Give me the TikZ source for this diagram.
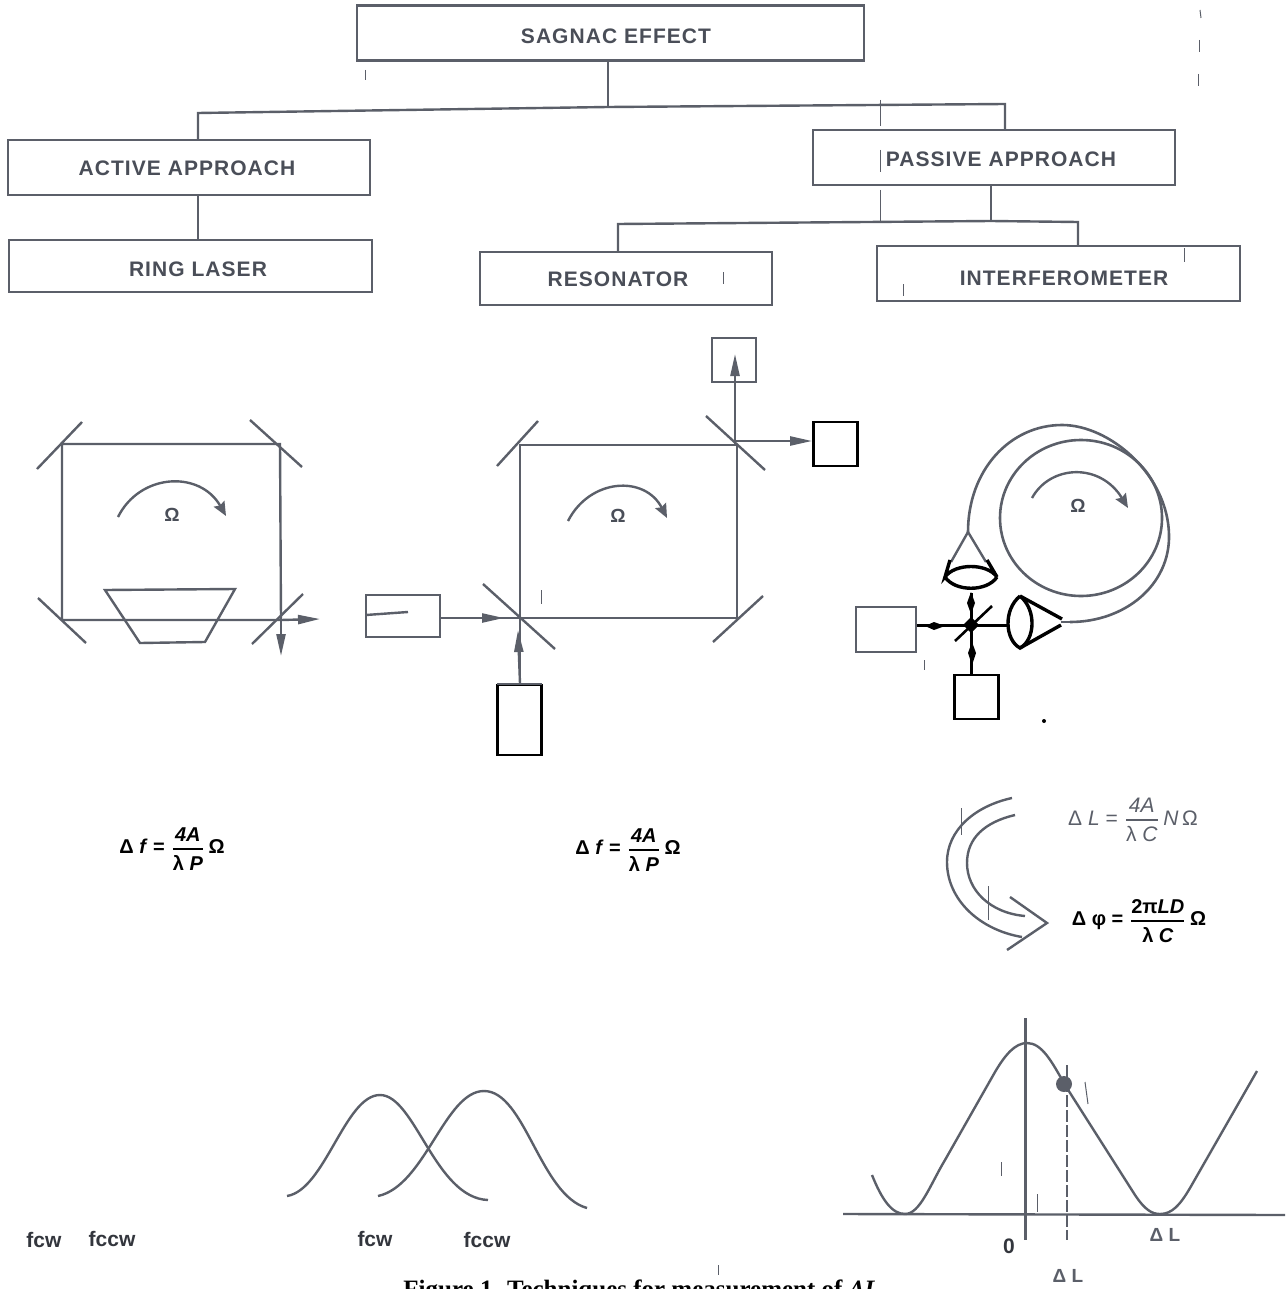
\documentclass[tikz,border=0pt]{standalone}
\usepackage{fontspec}
\setmainfont{Liberation Sans}
\newfontfamily\capfont{Liberation Serif}
\usetikzlibrary{arrows.meta}
\definecolor{inkg}{HTML}{5B5F69}
\definecolor{inkd}{HTML}{33363D}
\definecolor{inkt}{HTML}{4A4E58}
\newcommand{\fr}[2]{${\displaystyle\hbox{\rule[-2.5pt]{0pt}{2pt}#1}\above0.8pt\hbox{\rule{0pt}{9.5pt}#2}}$}
\tikzset{
  boxlbl/.style={draw=inkg,line width=1.2pt,fill=white,inner sep=0pt},
  boxtxt/.style={inner sep=0pt,text=inkt,font=\fontsize{10.5}{12}\selectfont\bfseries\addfontfeature{LetterSpace=5}},
  ln/.style={draw=inkg,line width=1.2pt},
  heavy/.style={draw=black,line width=1.3pt},
  heavier/.style={draw=black,line width=1.7pt},
  plain box/.style={draw=inkg,line width=1.2pt,fill=white,inner sep=0pt},
  black box/.style={draw=black,line width=1.4pt,fill=white,inner sep=0pt},
  tipg/.style={-{Stealth[length=11pt,width=4.5pt,inset=0pt]},ln},
  omega/.style={text=inkt,font=\fontsize{9.5}{11}\selectfont\bfseries},
  curl/.style={ln,-{Stealth[length=7pt,width=6pt,inset=1pt]}},
  formula/.style={text=black,font=\fontsize{10}{12}\selectfont\bfseries},
  formulag/.style={text=inkg,font=\fontsize{10.5}{12}\selectfont},
  tag/.style={text=inkd,font=\fontsize{10.5}{12}\selectfont\bfseries},
  tagg/.style={text=inkg,font=\fontsize{9.5}{11}\selectfont\bfseries},
  speck/.style={draw=inkg,line width=0.5pt},
}
\begin{document}
\begin{tikzpicture}[x=0.5pt,y=-0.5pt]
\useasboundingbox (0,0) rectangle (1287,1289);
\clip (0,0) rectangle (1287,1289);
% hierarchy
\node[boxlbl,minimum width=253.5pt,minimum height=27.5pt] (sagnac) at (610.5,33) {};
\node[boxtxt] (sagnact) at (616,36) {SAGNAC EFFECT};
\node[boxlbl,minimum width=181pt,minimum height=27.5pt] (active) at (189,167.5) {};
\node[boxtxt] (activet) at (187,168) {ACTIVE APPROACH};
\node[boxlbl,minimum width=181pt,minimum height=27.5pt] (passive) at (994,157.5) {};
\node[boxtxt] (passivet) at (1001,159) {PASSIVE APPROACH};
\node[boxlbl,minimum width=181.5pt,minimum height=26pt] (ring) at (190.5,266) {};
\node[boxtxt] (ringt) at (198,269) {RING LASER};
\node[boxlbl,minimum width=146pt,minimum height=26.5pt] (reson) at (626,278.5) {};
\node[boxtxt] (resont) at (618,279) {RESONATOR};
\node[boxlbl,minimum width=181.5pt,minimum height=27.5pt] (interf) at (1058.5,273.5) {};
\node[boxtxt] (interft) at (1064,278) {INTERFEROMETER};
\coordinate (b1) at (608,107);
\coordinate (b1l) at (198,113);
\coordinate (b1r) at (1005,104);
\coordinate (b2) at (991,221);
\coordinate (b2l) at (618,224);
\coordinate (b2r) at (1078,222);
\draw[ln] (sagnac.south -| b1) -- (b1);
\draw[ln] (active.north -| b1l) -- (b1l) -- (b1) -- (b1r) -- (passive.north -| b1r);
\draw[ln] (active.south -| b1l) -- (ring.north -| b1l);
\draw[ln] (passive.south -| b2) -- (b2);
\draw[ln] (reson.north -| b2l) -- (b2l) -- (b2) -- (b2r) -- (interf.north -| b2r);
% ring laser
\draw[ln] (62,444) -- (280,444) -- (281,620) -- (62,620) -- cycle;
\draw[ln] (37,469) -- (82,422);
\draw[ln] (250,420) -- (302,467);
\draw[ln] (38,598) -- (86,643);
\draw[ln] (252,644) -- (303,594);
\draw[ln] (105,590) -- (235,589) -- (205,642) -- (140,643) -- cycle;
\coordinate (rlc) at (281,620);
\draw[tipg] (rlc) -- (320,619);
\draw[tipg] (rlc) -- (281,656);
\draw[curl] (118,517) .. controls (140,473) and (200,470) .. (226,516);
\node[omega] (om1) at (172,515) {Ω};
% resonator
\draw[ln] (520,445) -- (737,445) -- (737,618) -- (520,618) -- cycle;
\draw[ln] (497,466) -- (538,421);
\draw[ln] (706,416) -- (765,470);
\draw[ln] (483,584) -- (555,649);
\draw[ln] (713,642) -- (763,596);
\node[plain box,minimum width=37pt,minimum height=21pt] (src) at (403,616) {};
\draw[ln] (366,615) -- (408,612);
\coordinate (bs) at (520,618);
\draw[tipg] (src.east |- bs) -- (504,618);
\draw[ln] (src.east |- bs) -- (bs);
\node[black box,minimum width=22pt,minimum height=35pt] (laser) at (519.5,720) {};
\draw[ln] (497,684) -- (542,684);
\draw[tipg] (laser.north -| bs) -- (518,630);
\draw[ln] (laser.north -| bs) -- (bs);
\node[plain box,line width=1.4pt,minimum width=22pt,minimum height=22pt] (det1) at (734,360) {};
\node[black box,minimum width=22pt,minimum height=22pt] (det2) at (835.5,444) {};
\coordinate (bs2) at (735,441);
\draw[tipg] (735,445) -- (735,354);
\draw[tipg] (bs2) -- (det2.west |- bs2);
\draw[curl] (568,521) .. controls (590,478) and (645,475) .. (667,518);
\node[omega] (om2) at (618,516) {Ω};
% coil
\draw[ln,line width=1.3pt] (1081,518) ellipse [x radius=81,y radius=78];
\draw[ln,line width=1.3pt] (968,532) .. controls (968,470) and (1010,425) .. (1062,425) .. controls (1110,425) and (1168,475) .. (1169,535) .. controls (1170,585) and (1125,622) .. (1070,622);
\draw[curl] (1032,498) .. controls (1050,465) and (1100,462) .. (1128,508);
\node[omega] (om3) at (1078,506) {Ω};
\draw[ln] (968,532) -- (951,562);
\draw[ln] (968,532) -- (986,562);
\draw[heavier] (950,560) -- (945,577) .. controls (955,563) and (987,563) .. (997,577) -- (987,560);
\draw[heavier] (945,577) .. controls (955,592) and (987,592) .. (997,577);
\draw[heavier] (1020,596) .. controls (1003,610) and (1005,640) .. (1020,648) .. controls (1035,640) and (1037,610) .. (1020,596);
\draw[heavier] (1020,596) -- (1062,619);
\draw[heavier] (1020,648) -- (1061,625);
\draw[ln] (1061,622) -- (1072,622);
\node[plain box,minimum width=30pt,minimum height=22.5pt] (cl) at (886,629.5) {};
\node[black box,minimum width=22pt,minimum height=22pt] (cb) at (976.5,697) {};
\coordinate (cx) at (971,625);
\draw[heavy] (955,641) -- (992,606);
\draw[heavy,line width=1.5pt] (cl.east |- cx) -- (cx) -- (1009,625);
\draw[heavy,line width=1.5pt] (971,593) -- (cx) -- (cb.north -| cx);
\fill[black] (925,626) -- (934,622) -- (945,626) -- (934,630) -- cycle;
\fill[black] (971,592) -- (975,603) -- (971,614) -- (967,603) -- cycle;
\fill[black] (972,642) -- (976,653) -- (972,665) -- (968,653) -- cycle;
\fill[black] (971,617) -- (979,625) -- (971,633) -- (963,625) -- cycle;
% formulas
\node[formula] (f1) at (172,849) {Δ \textit{f} = \fr{\itshape 4A}{λ \itshape P}\,Ω};
\node[formula] (f2) at (628,850) {Δ \textit{f} = \fr{\itshape 4A}{λ \itshape P}\,Ω};
\node[formulag] (f3) at (1133,820) {Δ \textit{L} = \fr{\itshape 4A}{λ \itshape C}\,\textit{N}\,Ω};
\node[formula] (f4) at (1139,921) {Δ φ = \fr{2π\itshape LD}{λ \itshape C}\,Ω};
% curved arrow
\draw[ln] (1012,798) .. controls (975,806) and (947,830) .. (947,862) .. controls (947,900) and (980,930) .. (1022,937);
\draw[ln] (1015,815) .. controls (985,822) and (967,838) .. (967,863) .. controls (967,890) and (990,913) .. (1025,916);
\draw[ln] (1010,897) -- (1047,923) -- (1007,950);
% spectra
\draw[ln] (287,1196) .. controls (325,1190) and (345,1095) .. (380,1095) .. controls (415,1095) and (435,1198) .. (488,1200);
\draw[ln] (378,1196) .. controls (425,1186) and (445,1091) .. (484,1091) .. controls (525,1091) and (540,1195) .. (587,1208);
\node[tag] (t1) at (44,1240) {fcw};
\node[tag] (t2) at (112,1239) {fccw};
\node[tag] (t3) at (375,1239) {fcw};
\node[tag] (t4) at (487,1240) {fccw};
% fringe plot
\draw[ln] (843,1214) -- (1285,1215);
\draw[ln,line width=1.5pt] (1025,1018) -- (1025,1240);
\draw[ln] (872,1175) .. controls (882,1200) and (892,1214) .. (905,1214) .. controls (920,1214) and (930,1185) .. (945,1160) -- (995,1072) .. controls (1005,1055) and (1015,1043) .. (1027,1043) .. controls (1042,1043) and (1052,1062) .. (1065,1085) -- (1135,1195) .. controls (1145,1210) and (1152,1214) .. (1160,1214) .. controls (1172,1214) and (1180,1205) .. (1190,1188) -- (1257,1071);
\draw[ln,dash pattern=on 6pt off 1.5pt] (1067,1065) -- (1067,1240);
\fill[inkg] (1064,1084) circle [radius=8];
\node[tag] (z) at (1009,1246) {0};
\node[tagg] (dl1) at (1165,1235) {Δ L};
\node[tagg] (dl2) at (1068,1276) {Δ L};
% caption, cut by the lower edge as in the reference
\node[anchor=base west,inner sep=0pt,text=black,font=\capfont\fontsize{12.5}{14}\selectfont\bfseries] (cap) at (403,1297) {Figure 1. Techniques for measurement of \textit{ΔL}};
% scan marks
\draw[speck] (880,100) -- (880,126);
\draw[speck] (880,150) -- (880,172);
\draw[speck] (880,190) -- (880,222);
\draw[speck] (1200,10) -- (1201,18);
\draw[speck] (1199,40) -- (1199,52);
\draw[speck] (1198,74) -- (1198,86);
\draw[speck] (365,70) -- (365,80);
\draw[speck] (723,272) -- (723,284);
\draw[speck] (718,1265) -- (718,1275);
\draw[speck] (1001,1162) -- (1001,1176);
\draw[speck] (1037,1194) -- (1037,1212);
\draw[speck] (541,590) -- (541,604);
\draw[speck] (924,660) -- (924,670);
\fill[black] (1044,721) circle [radius=2];
\draw[speck] (1085,1082) -- (1088,1104);
\draw[speck] (961,808) -- (961,835);
\draw[speck] (988,886) -- (988,920);
\draw[speck] (1184,248) -- (1184,262);
\draw[speck] (903,284) -- (903,296);
\end{tikzpicture}
\end{document}
